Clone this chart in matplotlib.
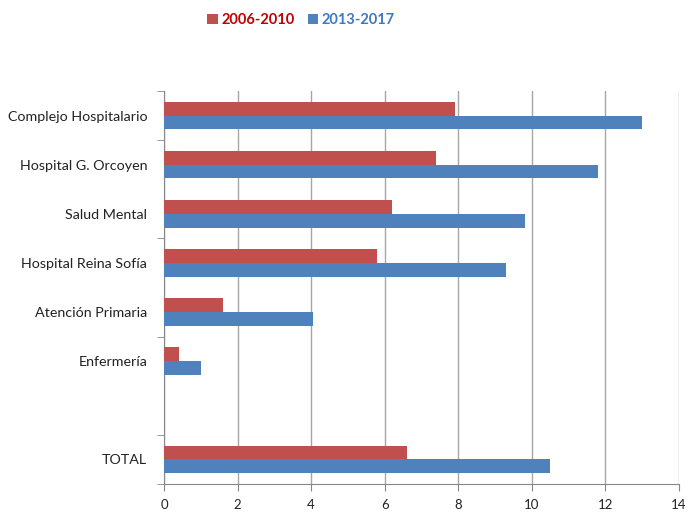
import matplotlib.pyplot as plt
import numpy as np

categorias = ['Complejo Hospitalario', 'Hospital G. Orcoyen', 'Salud Mental',
              'Hospital Reina Sofía', 'Atención Primaria', 'Enfermería', '', 'TOTAL']
valores_2006_2010 = [7.9, 7.4, 6.2, 5.8, 1.6, 0.4, None, 6.6]
valores_2013_2017 = [13.0, 11.8, 9.8, 9.3, 4.05, 1.0, None, 10.5]
xticks = [0, 2, 4, 6, 8, 10, 12, 14]

rojo = '#C0504D'
azul = '#4F81BD'

plt.rcParams['font.family'] = ['Lato', 'DejaVu Sans']

fig = plt.figure(figsize=(6.89, 5.13), dpi=100)
ax = fig.add_axes([0.238, 0.0565, 0.7475, 0.766])

n = len(categorias)
y = np.arange(n)
h = 0.28
r = [v if v is not None else 0 for v in valores_2006_2010]
b = [v if v is not None else 0 for v in valores_2013_2017]
ax.barh(y - h / 2, r, height=h, color=rojo, label='2006-2010', zorder=3)
ax.barh(y + h / 2, b, height=h, color=azul, label='2013-2017', zorder=3)

ax.set_ylim(n - 0.5, -0.5)
ax.set_xlim(0, 14)
ax.set_xticks(xticks)
ax.set_xticklabels([str(t) for t in xticks], fontsize=9.5, color='#222222')
ax.set_yticks(y)
ax.set_yticklabels(categorias, fontsize=10.3, color='#222222')
ax.tick_params(axis='y', which='major', length=0, pad=12)
ax.set_yticks([-0.5, 0.5, 2.5, 4.5, 6.5, 7.5], minor=True)
ax.tick_params(axis='y', which='minor', length=5, color='#868686')
ax.tick_params(axis='x', length=5, color='#868686', pad=6)

ax.grid(axis='x', color='#A6A6A6', linewidth=1, zorder=0)
for s in ['top', 'right']:
    ax.spines[s].set_visible(False)
for s in ['left', 'bottom']:
    ax.spines[s].set_color('#868686')

leg = fig.legend(loc='upper center', bbox_to_anchor=(0.437, 1.0), ncol=2, frameon=False,
                 handlelength=0.7, handleheight=0.7, handletextpad=0.25, columnspacing=0.9,
                 prop={'weight': 'bold', 'size': 10.5})
for t, c in zip(leg.get_texts(), ['#C00000', '#3C78C3']):
    t.set_color(c)

fig.savefig('out.png', dpi=100)
